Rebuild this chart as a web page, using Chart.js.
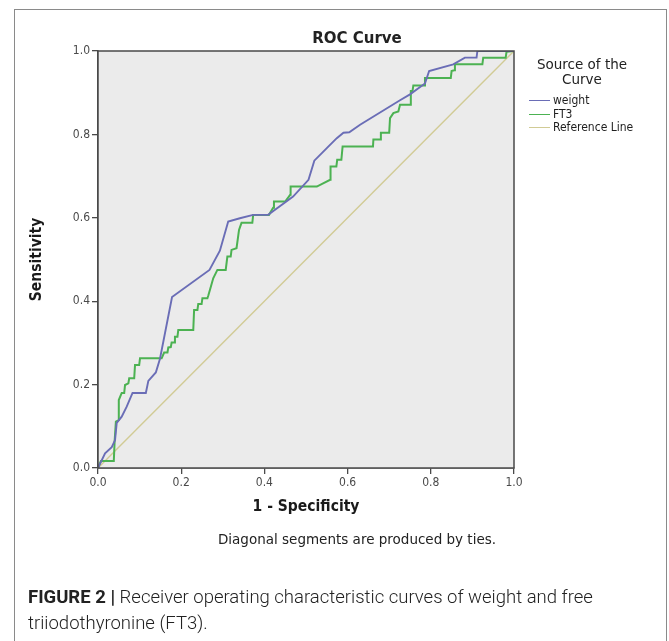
<!DOCTYPE html>
<html>
<head>
<meta charset="utf-8">
<script src="https://cdn.jsdelivr.net/npm/chart.js@4"></script>
<style>
  html, body { margin: 0; padding: 0; background: #fff; width: 669px; height: 641px; overflow: hidden; }
  #frame { position: absolute; left: 14px; top: 9px; width: 653px; height: 700px; border: 1px solid #8a8a8a; box-sizing: border-box; }
  #wrap { position: absolute; left: 0; top: 0; width: 669px; height: 641px; }
  .t { position: absolute; white-space: nowrap; color: #222; font-family: "DejaVu Sans", sans-serif; }
  #title { left: 357px; top: 38px; transform: translate(-50%, -50%); font-weight: bold; font-size: 15px; }
  #legTitle { left: 582px; top: 57px; transform: translateX(-50%); font-size: 13.5px; text-align: center; line-height: 14.5px; }
  .leg { position: absolute; left: 529px; height: 14px; font-size: 12px; color: #1e1e1e; font-family: "DejaVu Sans Condensed", "DejaVu Sans", sans-serif; white-space: nowrap; }
  .leg span.sw { position: absolute; left: 0; top: 7px; width: 21px; height: 0; border-top: 1.6px solid; }
  .leg span.tx { position: absolute; left: 24px; top: 0; line-height: 14px; }
  #note { left: 357px; top: 539px; transform: translate(-50%, -50%); font-size: 13.5px; }
  #caption { position: absolute; left: 28px; top: 584px; font-family: Roboto, "Liberation Sans", sans-serif; font-weight: 300; font-size: 18.5px; line-height: 26px; color: #222; }
  #caption b { font-weight: 700; }
</style>
</head>
<body>
<div id="frame"></div>
<div id="wrap"><canvas id="c"></canvas></div>
<div class="t" id="title">ROC Curve</div>
<div class="t" id="legTitle">Source of the<br>Curve</div>
<div id="legend"></div>
<div class="t" id="note">Diagonal segments are produced by ties.</div>
<div id="caption"><b>FIGURE 2 |</b> Receiver operating characteristic curves of weight and free<br>triiodothyronine (FT3).</div>
<script>
// ---- data ----
const seriesNames = ["weight", "FT3", "Reference Line"];
const seriesColors = ["#6a6db6", "#4cb252", "#d1cb95"];

const weightFpr = [0, 0.017, 0.033, 0.041, 0.045, 0.057, 0.069, 0.083, 0.115, 0.121, 0.139, 0.149, 0.178, 0.268, 0.293, 0.313, 0.341, 0.373, 0.409, 0.469, 0.506, 0.52, 0.55, 0.574, 0.59, 0.604, 0.63, 0.726, 0.75, 0.786, 0.796, 0.854, 0.882, 0.91, 0.912, 1];
const weightTpr = [0, 0.035, 0.05, 0.067, 0.108, 0.123, 0.147, 0.18, 0.18, 0.209, 0.229, 0.262, 0.41, 0.475, 0.521, 0.591, 0.599, 0.607, 0.607, 0.651, 0.691, 0.737, 0.767, 0.791, 0.804, 0.805, 0.823, 0.882, 0.896, 0.922, 0.952, 0.968, 0.984, 0.984, 1.0, 1];

const ft3Fpr = [0, 0.007, 0.038, 0.04, 0.043, 0.05, 0.05, 0.057, 0.063, 0.065, 0.073, 0.075, 0.087, 0.089, 0.099, 0.101, 0.153, 0.159, 0.167, 0.169, 0.175, 0.177, 0.183, 0.185, 0.191, 0.193, 0.229, 0.231, 0.239, 0.241, 0.249, 0.251, 0.263, 0.265, 0.269, 0.277, 0.287, 0.307, 0.311, 0.319, 0.321, 0.333, 0.339, 0.345, 0.371, 0.373, 0.411, 0.421, 0.423, 0.45, 0.462, 0.463, 0.526, 0.558, 0.559, 0.573, 0.575, 0.585, 0.588, 0.661, 0.662, 0.678, 0.68, 0.70, 0.702, 0.71, 0.722, 0.726, 0.75, 0.752, 0.756, 0.758, 0.784, 0.786, 0.848, 0.85, 0.856, 0.858, 0.924, 0.926, 0.98, 0.982, 1];
const ft3Tpr = [0, 0.017, 0.017, 0.065, 0.111, 0.115, 0.163, 0.18, 0.18, 0.199, 0.203, 0.215, 0.215, 0.247, 0.247, 0.263, 0.263, 0.277, 0.277, 0.289, 0.29, 0.301, 0.301, 0.315, 0.315, 0.331, 0.331, 0.379, 0.379, 0.393, 0.393, 0.407, 0.407, 0.413, 0.427, 0.455, 0.475, 0.475, 0.507, 0.507, 0.523, 0.527, 0.571, 0.588, 0.588, 0.607, 0.607, 0.624, 0.639, 0.639, 0.655, 0.675, 0.675, 0.691, 0.723, 0.723, 0.739, 0.739, 0.771, 0.771, 0.788, 0.788, 0.804, 0.804, 0.839, 0.851, 0.855, 0.871, 0.871, 0.904, 0.904, 0.917, 0.917, 0.935, 0.935, 0.952, 0.954, 0.968, 0.968, 0.984, 0.984, 0.998, 1];

const refFpr = [0, 1];
const refTpr = [0, 1];

const tickValues = [0, 0.2, 0.4, 0.6, 0.8, 1.0];
const xTitle = "1 - Specificity";
const yTitle = "Sensitivity";

// ---- build ----
const pts = (xs, ys) => xs.map((x, i) => ({ x: x, y: ys[i] }));

const boxPlugin = {
  id: 'box',
  beforeDatasetsDraw(chart) {
    const a = chart.chartArea, ctx = chart.ctx;
    ctx.save();
    ctx.fillStyle = '#ebebeb';
    ctx.fillRect(a.left, a.top, a.right - a.left, a.bottom - a.top);
    ctx.restore();
  },
  afterDatasetsDraw(chart) {
    const a = chart.chartArea, ctx = chart.ctx;
    ctx.save();
    ctx.strokeStyle = '#4a4a4a';
    ctx.lineWidth = 1.5;
    ctx.strokeRect(a.left, a.top, a.right - a.left, a.bottom - a.top);
    ctx.restore();
  }
};

const tickFont = { family: '"DejaVu Sans Condensed", "DejaVu Sans", sans-serif', size: 12 };
const titleFont = { family: '"DejaVu Sans Condensed", "DejaVu Sans", sans-serif', size: 15.5, weight: 'bold' };

new Chart(document.getElementById('c'), {
  type: 'line',
  data: {
    datasets: [
      { label: seriesNames[2], data: pts(refFpr, refTpr), borderColor: seriesColors[2], borderWidth: 1.4, pointRadius: 0, order: 3 },
      { label: seriesNames[1], data: pts(ft3Fpr, ft3Tpr), borderColor: seriesColors[1], borderWidth: 2, pointRadius: 0, order: 2 },
      { label: seriesNames[0], data: pts(weightFpr, weightTpr), borderColor: seriesColors[0], borderWidth: 1.9, pointRadius: 0, order: 1 }
    ]
  },
  options: {
    responsive: true,
    maintainAspectRatio: false,
    animation: false,
    layout: { padding: { left: 0, top: 51, right: 155, bottom: 123 } },
    plugins: { legend: { display: false }, title: { display: false }, tooltip: { enabled: false } },
    elements: { line: { tension: 0 } },
    scales: {
      x: {
        type: 'linear', min: 0, max: 1,
        afterBuildTicks: s => { s.ticks = tickValues.map(v => ({ value: v })); },
        afterFit: s => { s.height = 50; s.paddingLeft = 0; s.paddingRight = 0; },
        ticks: { font: tickFont, color: '#4a4a4a', padding: 2, maxRotation: 0, callback: v => Number(v).toFixed(1) },
        grid: { drawOnChartArea: false, drawTicks: true, tickLength: 6, color: '#4a4a4a', lineWidth: 1.3 },
        border: { display: true, color: '#4a4a4a', width: 1.5 },
        title: { display: true, text: xTitle, font: titleFont, color: '#1a1a1a', padding: { top: 0, bottom: 2 } }
      },
      y: {
        type: 'linear', min: 0, max: 1,
        afterBuildTicks: s => { s.ticks = tickValues.map(v => ({ value: v })); },
        afterFit: s => { s.width = 98; s.paddingTop = 0; s.paddingBottom = 0; },
        ticks: { font: tickFont, color: '#4a4a4a', padding: 2, callback: v => Number(v).toFixed(1) },
        grid: { drawOnChartArea: false, drawTicks: true, tickLength: 6, color: '#4a4a4a', lineWidth: 1.3 },
        border: { display: true, color: '#4a4a4a', width: 1.5 },
        title: { display: true, text: yTitle, font: titleFont, color: '#1a1a1a', padding: { top: 28, bottom: 0 } }
      }
    }
  },
  plugins: [boxPlugin]
});

// HTML legend built from the series names
const legTops = [93, 107, 120];
const legend = document.getElementById('legend');
seriesNames.forEach((n, i) => {
  const d = document.createElement('div');
  d.className = 'leg';
  d.style.top = legTops[i] + 'px';
  d.innerHTML = '<span class="sw" style="border-color:' + seriesColors[i] + '"></span><span class="tx">' + n + '</span>';
  legend.appendChild(d);
});
</script>
</body>
</html>
